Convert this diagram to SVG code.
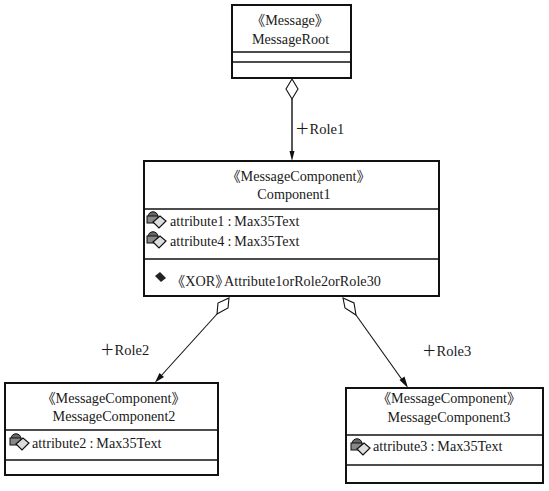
<svg xmlns="http://www.w3.org/2000/svg" width="549" height="491" viewBox="0 0 549 491">
<style>
text{font-family:"Liberation Serif","Noto Sans CJK SC",serif;font-size:14.2px;fill:#1a1a1a}
.c{text-anchor:middle}
.role{font-size:14.5px}
.box{fill:#fff;stroke:#111;stroke-width:2}
.div{stroke:#111;stroke-width:1.6;fill:none}
.edge{stroke:#111;stroke-width:1.1;fill:none}
.dia{fill:#fff;stroke:#111;stroke-width:1.1}
.ah{fill:#111;stroke:none}
.ic1{fill:#666;stroke:#111;stroke-width:1}
.ic2{fill:#ddd;stroke:#111;stroke-width:1.2}
</style>
<defs>
<g id="attr">
<path d="M2 7 C2 0 12 0 12 7 Z" class="ic1"/>
<rect x="1" y="6" width="11" height="7" fill="#888" stroke="#111"/>
<path d="M7 12 L14 6 L20 11 L13 18 Z" class="ic2"/>
</g>
</defs>
<rect width="549" height="491" fill="#fff"/>
<g id="connectors">
<line class="edge" x1="292" y1="99" x2="292" y2="154" style="stroke-width:1.4"/>
<path class="dia" d="M292 79 L298 89 L292 99 L286 89 Z"/>
<path class="ah" d="M292 161 L289.500 151 L294.500 151 Z"/>
<line class="edge" x1="217" y1="314" x2="160" y2="377"/>
<path class="dia" d="M229 298 L228 308 L217 314 L218 303 Z"/>
<path class="ah" d="M155 382.500 L159.500 373 L164 377 Z"/>
<line class="edge" x1="356" y1="315" x2="403" y2="381"/>
<path class="dia" d="M343 298 L354 303 L356 315 L345 308 Z"/>
<path class="ah" d="M408 388 L399.500 380 L404.500 376.500 Z"/>
</g>
<g id="labels">
<text class="role" x="295" y="134">＋Role1</text>
<text class="role" x="100" y="355">＋Role2</text>
<text class="role" x="422" y="356">＋Role3</text>
</g>
<g id="MessageRoot">
<rect class="box" x="232" y="5" width="119" height="73"/>
<line class="div" x1="232" y1="52" x2="351" y2="52"/>
<line class="div" x1="232" y1="62" x2="351" y2="62"/>
<text class="c" x="290" y="25">《Message》</text>
<text class="c" x="290.500" y="44">MessageRoot</text>
</g>
<g id="Component1">
<rect class="box" x="144" y="161" width="295" height="135"/>
<line class="div" x1="144" y1="209" x2="439" y2="209"/>
<line class="div" x1="144" y1="259" x2="439" y2="259"/>
<text class="c" x="298.500" y="181">《MessageComponent》</text>
<text class="c" x="294" y="199">Component1</text>
<use href="#attr" x="146" y="210"/>
<text x="170" y="226">attribute1<tspan dx="3">:</tspan><tspan dx="3">Max35Text</tspan></text>
<use href="#attr" x="146" y="230"/>
<text x="170" y="246">attribute4<tspan dx="3">:</tspan><tspan dx="3">Max35Text</tspan></text>
<path d="M155 276 L160 272 L166 278 L161 282 Z" fill="#222"/>
<text x="171" y="286">《XOR》<tspan x="224">Attribute1orRole2orRole30</tspan></text>
</g>
<g id="MessageComponent2">
<rect class="box" x="5" y="383" width="213" height="92"/>
<line class="div" x1="5" y1="430" x2="218" y2="430"/>
<line class="div" x1="5" y1="460" x2="218" y2="460"/>
<text class="c" x="113.500" y="403">《MessageComponent》</text>
<text class="c" x="114" y="421">MessageComponent2</text>
<use href="#attr" x="9" y="432"/>
<text x="32" y="448">attribute2<tspan dx="3">:</tspan><tspan dx="3">Max35Text</tspan></text>
</g>
<g id="MessageComponent3">
<rect class="box" x="346" y="388" width="197" height="95"/>
<line class="div" x1="346" y1="435" x2="543" y2="435"/>
<line class="div" x1="346" y1="465" x2="543" y2="465"/>
<text class="c" x="449" y="403">《MessageComponent》</text>
<text class="c" x="449" y="422">MessageComponent3</text>
<use href="#attr" x="350" y="437"/>
<text x="373" y="451">attribute3<tspan dx="3">:</tspan><tspan dx="3">Max35Text</tspan></text>
</g>
</svg>
